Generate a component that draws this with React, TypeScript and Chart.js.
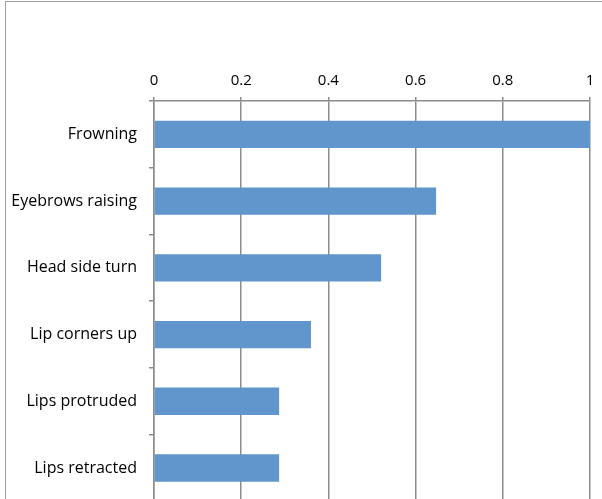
import React, { useEffect, useRef } from "react";
import { Chart, registerables } from "chart.js";

Chart.register(...registerables);

const categories = [
  "Frowning",
  "Eyebrows raising",
  "Head side turn",
  "Lip corners up",
  "Lips protruded",
  "Lips retracted",
];
const values = [1.0, 0.647, 0.521, 0.36, 0.287, 0.287];
const xTicks = [0, 0.2, 0.4, 0.6, 0.8, 1];

const GRID = "#8c8c8c";
const BAR = "#6096cb";
const FONT = "'Open Sans', Lato, sans-serif";

export default function App() {
  const ref = useRef<HTMLCanvasElement | null>(null);

  useEffect(() => {
    document.body.style.margin = "0";
    const canvas = ref.current;
    if (!canvas) return;
    const chart = new Chart(canvas, {
      type: "bar",
      data: {
        labels: categories,
        datasets: [
          {
            data: values,
            backgroundColor: BAR,
            borderWidth: 0,
            categoryPercentage: 1,
            barPercentage: 0.41,
          },
        ],
      },
      options: {
        indexAxis: "y",
        animation: false,
        responsive: false,
        maintainAspectRatio: false,
        layout: { padding: { left: 0, right: 12, top: 0, bottom: 0 } },
        plugins: {
          legend: { display: false },
          tooltip: { enabled: false },
        },
        scales: {
          x: {
            position: "top",
            min: 0,
            max: 1,
            afterBuildTicks: (s: any) => {
              s.ticks = xTicks.map((v) => ({ value: v }));
            },
            afterFit: (s: any) => {
              s.height = 101;
            },
            ticks: {
              color: "#000",
              font: { family: FONT, size: 15 },
              padding: 7,
              callback: (v: any) => String(v),
            },
            grid: {
              color: GRID,
              lineWidth: 1.5,
              tickLength: 4,
            },
            border: { color: GRID, width: 1.5 },
          },
          y: {
            afterFit: (s: any) => {
              s.width = 154;
            },
            ticks: {
              color: "#000",
              font: { family: FONT, size: 16 },
              padding: 12,
            },
            grid: {
              offset: true,
              drawOnChartArea: false,
              color: GRID,
              lineWidth: 1.5,
              tickLength: 5,
            },
            border: { color: GRID, width: 1.5 },
          },
        },
      },
    });
    return () => chart.destroy();
  }, []);

  return (
    <div style={{ position: "relative", width: 602, height: 499, overflow: "hidden", background: "#fff" }}>
      <div
        style={{
          position: "absolute",
          left: 5,
          top: 1,
          width: 700,
          height: 700,
          border: "1.5px solid #a0a0a0",
          boxSizing: "border-box",
        }}
      />
      <canvas
        ref={ref}
        width={602}
        height={523}
        style={{ position: "absolute", left: 0, top: 0 }}
      />
    </div>
  );
}
